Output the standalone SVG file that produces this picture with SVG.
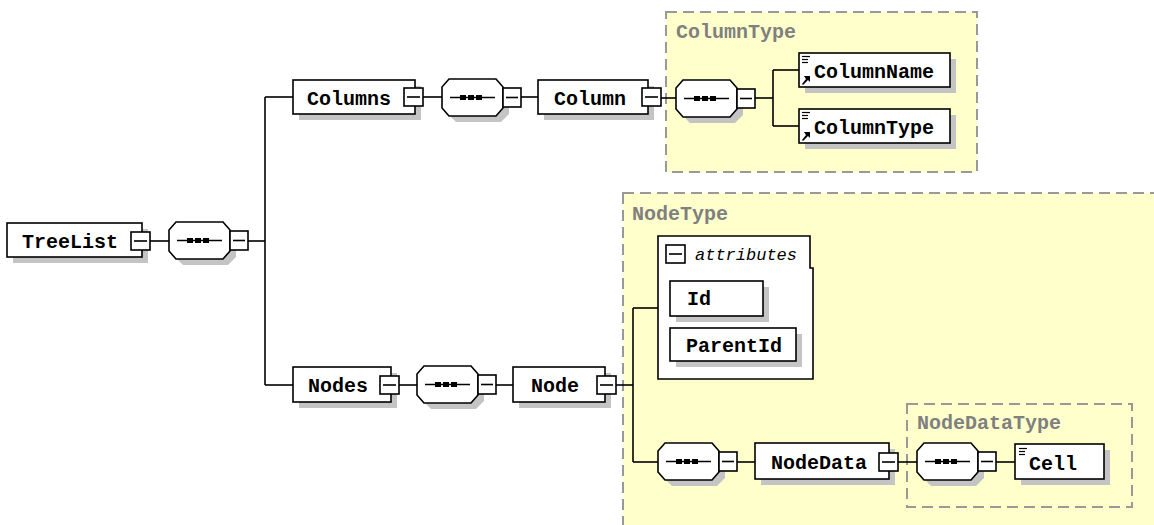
<svg xmlns="http://www.w3.org/2000/svg" xmlns:xlink="http://www.w3.org/1999/xlink" width="1154" height="525" viewBox="0 0 1154 525">
<style>
.bg{fill:#ffffff}
.region{fill:#ffffcc;stroke:#999999;stroke-width:2;stroke-dasharray:11 6}
.rlabel{font-family:"Liberation Mono",monospace;font-weight:bold;font-size:20px;fill:#808080}
.box{fill:#ffffff;stroke:#000000;stroke-width:1.6}
.shadow{fill:#c4c4c4}
.txt{font-family:"Liberation Mono",monospace;font-weight:bold;font-size:20px;fill:#000000}
.ital{font-family:"Liberation Mono",monospace;font-style:italic;font-size:17px;fill:#000000}
.ln{stroke:#000000;stroke-width:1.6;fill:none}
.conn{stroke:#000000;stroke-width:1.6;fill:none}
</style>
<defs>
<g id="seq">
<polygon class="shadow" points="14,6 59,6 67,14 67,35 59,43 14,43 6,35 6,14"/>
<polygon class="box" points="7,0 54,0 61,8 61,29 54,37 7,37 0,29 0,8"/>
<line class="ln" x1="8" y1="18.5" x2="53" y2="18.5"/>
<rect x="18" y="16" width="6" height="5" fill="#000"/>
<rect x="26" y="16" width="6" height="5" fill="#000"/>
<rect x="34" y="16" width="6" height="5" fill="#000"/>
<rect class="box" x="61" y="9" width="18" height="19"/>
<line class="ln" x1="64" y1="18.5" x2="76" y2="18.5"/>
</g>
<g id="minus">
<rect class="box" x="0" y="0" width="19" height="18"/>
<line class="ln" x1="3" y1="9" x2="16" y2="9"/>
</g>
<g id="doc">
<line stroke="#000" stroke-width="1.2" x1="0" y1="0.5" x2="8" y2="0.5"/>
<line stroke="#000" stroke-width="1.2" x1="0" y1="3.5" x2="6" y2="3.5"/>
<line stroke="#000" stroke-width="1.2" x1="0" y1="6.5" x2="6" y2="6.5"/>
</g>
<g id="ref">
<polygon points="8,0 8,6 6,4 1,9 0,8 4,3 2,0" fill="#000"/>
</g>
</defs>
<rect class="bg" x="0" y="0" width="1154" height="525"/>

<g id="regions">
<rect id="ColumnTypeRegion" class="region" x="666" y="12" width="311" height="160"/>
<rect id="NodeTypeRegion" class="region" x="623" y="193" width="600" height="400"/>
<rect id="NodeDataTypeRegion" class="region" x="907" y="404" width="225" height="103"/>
<text class="rlabel" x="676" y="38">ColumnType</text>
<text class="rlabel" x="632" y="220">NodeType</text>
<text class="rlabel" x="917" y="429">NodeDataType</text>
</g>

<g id="connectors">
<line class="conn" x1="150" y1="241" x2="169" y2="241"/>
<line class="conn" x1="248" y1="241" x2="265" y2="241"/>
<line class="conn" x1="265" y1="97" x2="265" y2="385"/>
<line class="conn" x1="265" y1="97" x2="293" y2="97"/>
<line class="conn" x1="265" y1="385" x2="293" y2="385"/>
<line class="conn" x1="423" y1="97" x2="442" y2="97"/>
<line class="conn" x1="520" y1="97" x2="538" y2="97"/>
<line class="conn" x1="660" y1="98" x2="676" y2="98"/>
<line class="conn" x1="755" y1="98" x2="773" y2="98"/>
<line class="conn" x1="773" y1="70" x2="773" y2="126"/>
<line class="conn" x1="773" y1="70" x2="799" y2="70"/>
<line class="conn" x1="773" y1="126" x2="799" y2="126"/>
<line class="conn" x1="399" y1="385" x2="417" y2="385"/>
<line class="conn" x1="495" y1="385" x2="513" y2="385"/>
<line class="conn" x1="613" y1="385" x2="633" y2="385"/>
<line class="conn" x1="633" y1="308" x2="633" y2="462"/>
<line class="conn" x1="633" y1="308" x2="658" y2="308"/>
<line class="conn" x1="633" y1="462" x2="658" y2="462"/>
<line class="conn" x1="736" y1="462" x2="755" y2="462"/>
<line class="conn" x1="898" y1="462" x2="917" y2="462"/>
<line class="conn" x1="995" y1="462" x2="1015" y2="462"/>
</g>

<g id="TreeList">
<rect class="shadow" x="13" y="229" width="135" height="34"/>
<rect class="box" x="7" y="223" width="135" height="34"/>
<text class="txt" x="22" y="248">TreeList</text>
<use xlink:href="#minus" x="131" y="232"/>
</g>
<g id="seq1"><use xlink:href="#seq" x="169" y="222"/></g>

<g id="Columns">
<rect class="shadow" x="299" y="86" width="122" height="34"/>
<rect class="box" x="293" y="80" width="122" height="34"/>
<text class="txt" x="307" y="105">Columns</text>
<use xlink:href="#minus" x="404" y="88"/>
</g>
<g id="seq2"><use xlink:href="#seq" x="442" y="79"/></g>

<g id="Column">
<rect class="shadow" x="544" y="86" width="110" height="34"/>
<rect class="box" x="538" y="80" width="110" height="34"/>
<text class="txt" x="554" y="105">Column</text>
<use xlink:href="#minus" x="642" y="88"/>
</g>
<g id="seq3"><use xlink:href="#seq" x="676" y="80"/></g>

<g id="ColumnName">
<rect class="shadow" x="805" y="59" width="151" height="34"/>
<rect class="box" x="799" y="53" width="151" height="34"/>
<use xlink:href="#doc" x="802" y="56"/>
<use xlink:href="#ref" x="802" y="76"/>
<text class="txt" x="814" y="78">ColumnName</text>
</g>

<g id="ColumnTypeEl">
<rect class="shadow" x="805" y="115" width="151" height="34"/>
<rect class="box" x="799" y="109" width="151" height="34"/>
<use xlink:href="#doc" x="802" y="112"/>
<use xlink:href="#ref" x="802" y="132"/>
<text class="txt" x="814" y="134">ColumnType</text>
</g>

<g id="Nodes">
<rect class="shadow" x="299" y="373" width="98" height="35"/>
<rect class="box" x="293" y="367" width="98" height="35"/>
<text class="txt" x="308" y="392">Nodes</text>
<use xlink:href="#minus" x="380" y="376"/>
</g>
<g id="seq4"><use xlink:href="#seq" x="417" y="366"/></g>

<g id="Node">
<rect class="shadow" x="519" y="373" width="92" height="35"/>
<rect class="box" x="513" y="367" width="92" height="35"/>
<text class="txt" x="531" y="392">Node</text>
<use xlink:href="#minus" x="597" y="376"/>
</g>

<g id="attributes">
<path class="box" d="M658,236 H810 V268 H813 V379 H658 Z"/>
<use xlink:href="#minus" x="666" y="245"/>
<text class="ital" x="695" y="260">attributes</text>
</g>

<g id="Id">
<rect class="shadow" x="676" y="287" width="93" height="35"/>
<rect class="box" x="670" y="281" width="93" height="35"/>
<text class="txt" x="687" y="305">Id</text>
</g>

<g id="ParentId">
<rect class="shadow" x="676" y="334" width="126" height="33"/>
<rect class="box" x="670" y="328" width="126" height="33"/>
<text class="txt" x="686" y="352">ParentId</text>
</g>

<g id="seq5"><use xlink:href="#seq" x="658" y="443"/></g>

<g id="NodeData">
<rect class="shadow" x="761" y="449" width="134" height="36"/>
<rect class="box" x="755" y="443" width="134" height="36"/>
<text class="txt" x="771" y="469">NodeData</text>
<use xlink:href="#minus" x="879" y="453"/>
</g>

<g id="seq6"><use xlink:href="#seq" x="917" y="443"/></g>

<g id="Cell">
<rect class="shadow" x="1021" y="450" width="89" height="35"/>
<rect class="box" x="1015" y="444" width="89" height="35"/>
<use xlink:href="#doc" x="1019" y="448"/>
<text class="txt" x="1029" y="470">Cell</text>
</g>
</svg>
